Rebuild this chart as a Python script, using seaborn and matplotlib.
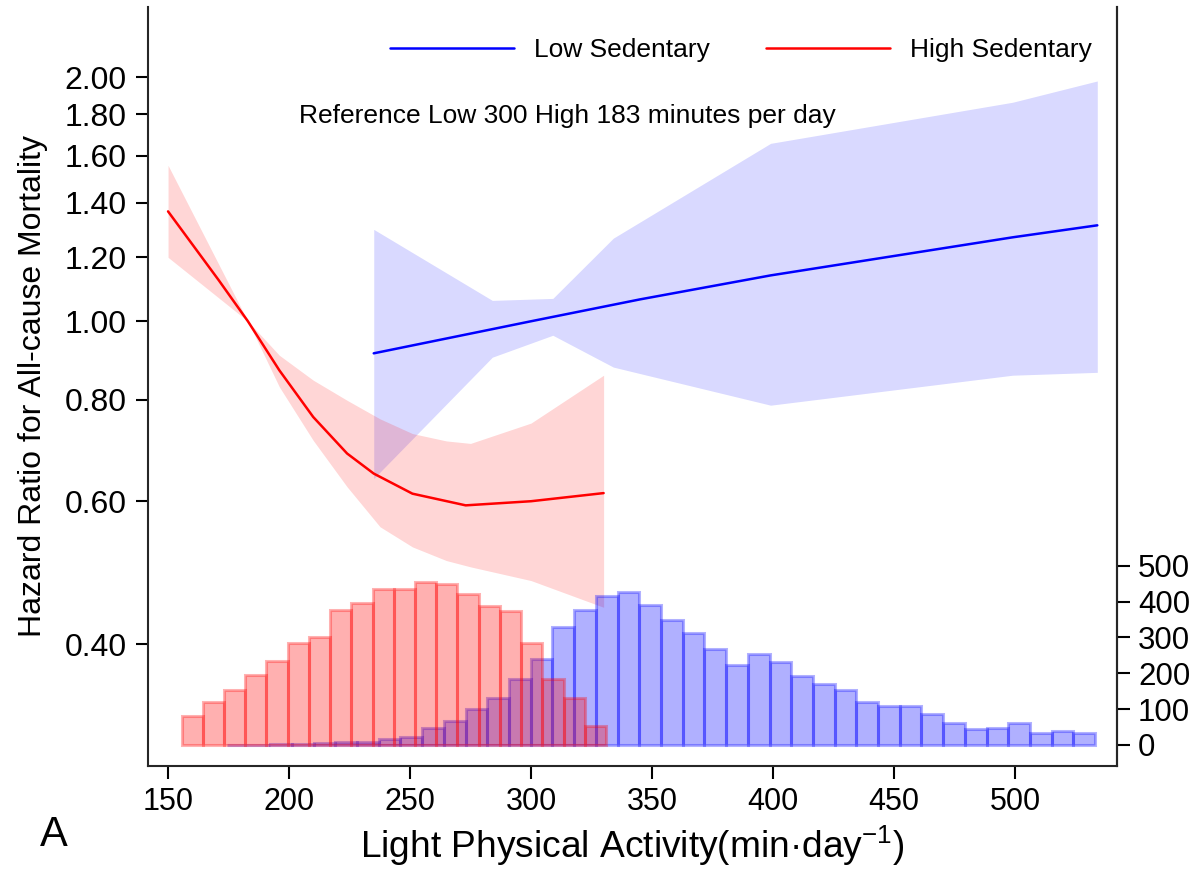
import numpy as np
import pandas as pd
import matplotlib
matplotlib.use("Agg")
import matplotlib.pyplot as plt
import seaborn as sns
from matplotlib.ticker import FixedLocator, FixedFormatter, NullLocator

# hazard ratio curves
low_x = [235, 300, 345, 399, 499, 534]
low_hr = [0.913, 1.0, 1.064, 1.139, 1.269, 1.313]
low_ci_x = [235, 284, 309, 334, 399, 499, 534]
low_lo = [0.640, 0.903, 0.961, 0.878, 0.788, 0.858, 0.865]
low_hi = [1.298, 1.061, 1.067, 1.266, 1.657, 1.862, 1.978]

high_x = [150, 171, 183, 196, 210, 224, 235, 251, 273, 300, 330]
high_hr = [1.366, 1.123, 1.0, 0.870, 0.762, 0.687, 0.649, 0.613, 0.593, 0.600, 0.614]
high_ci_x = [150, 183, 196, 210, 224, 237.6, 251, 265, 275, 300, 330]
high_lo = [1.199, 1.0, 0.830, 0.713, 0.625, 0.558, 0.527, 0.507, 0.498, 0.479, 0.444]
high_hi = [1.557, 1.0, 0.908, 0.846, 0.799, 0.758, 0.727, 0.712, 0.707, 0.749, 0.858]

# histogram counts (number of participants per bin)
low_counts = [1, 1, 2, 3, 5, 8, 8, 16, 21, 46, 67, 100, 131, 184, 240, 328, 377, 416, 427, 391,
              349, 312, 268, 223, 254, 230, 191, 170, 154, 119, 110, 110, 86, 60, 45, 47, 62, 34, 39, 34]
low_range = (174.3, 533.1)
high_counts = [82, 120, 154, 196, 235, 284, 301, 377, 397, 435, 435, 455, 450, 422, 387, 374, 284, 184, 131, 53]
high_range = (155.6, 331.0)

hr_ticks = [0.40, 0.60, 0.80, 1.00, 1.20, 1.40, 1.60, 1.80, 2.00]
count_ticks = [0, 100, 200, 300, 400, 500]
x_ticks = [150, 200, 250, 300, 350, 400, 450, 500]

sns.set_theme(style="ticks")
plt.rcParams['font.family'] = ['Liberation Sans', 'DejaVu Sans']
plt.rcParams['mathtext.fontset'] = 'custom'
plt.rcParams['mathtext.rm'] = 'Liberation Sans'
plt.rcParams['axes.linewidth'] = 1.5
plt.rcParams['text.color'] = 'black'
plt.rcParams['axes.labelcolor'] = 'black'

fig = plt.figure(figsize=(11.98, 8.75), dpi=100)
ax = fig.add_axes([0.1235, 0.1246, 0.8088, 0.8674])
ax2 = ax.twinx()

# confidence bands
ax.fill_between(low_ci_x, low_lo, low_hi, color=(0, 0, 1, 0.15), linewidth=0)
ax.fill_between(high_ci_x, high_lo, high_hi, color=(1, 0, 0, 0.16), linewidth=0)
sns.lineplot(x=low_x, y=low_hr, ax=ax, color='#0000ff', linewidth=1.8, label='Low Sedentary')
sns.lineplot(x=high_x, y=high_hr, ax=ax, color='#ff0000', linewidth=1.8, label='High Sedentary')

# histograms on the secondary axis, one bar per bin centre weighted by its count
def bin_centres(rng, n):
    w = (rng[1] - rng[0]) / n
    return rng[0] + w * (np.arange(n) + 0.5)

low_df = pd.DataFrame({'pa': bin_centres(low_range, len(low_counts)), 'n': low_counts})
high_df = pd.DataFrame({'pa': bin_centres(high_range, len(high_counts)), 'n': high_counts})
sns.histplot(data=low_df, x='pa', weights='n', bins=len(low_counts), binrange=low_range, ax=ax2,
             facecolor=(0, 0, 1, 0.31), edgecolor=(0, 0, 1, 0.3), linewidth=2.2)
sns.histplot(data=high_df, x='pa', weights='n', bins=len(high_counts), binrange=high_range, ax=ax2,
             facecolor=(1, 0, 0, 0.31), edgecolor=(1, 0, 0, 0.3), linewidth=2.2)

ax.set_xlim(141.7, 542.1)
ax.set_yscale('log')
ax.set_ylim(0.283, 2.44)
ax.yaxis.set_major_locator(FixedLocator(hr_ticks))
ax.yaxis.set_major_formatter(FixedFormatter([f"{t:.2f}" for t in hr_ticks]))
ax.yaxis.set_minor_locator(NullLocator())
ax.set_xticks(x_ticks)
ax2.set_ylim(-58.6, 2058)
ax2.set_yticks(count_ticks)
ax2.set_ylabel('')
ax2.set_xlabel('')

for a in (ax, ax2):
    a.spines['top'].set_visible(False)
ax2.spines['left'].set_visible(False)
ax2.spines['bottom'].set_visible(False)

ax.tick_params(axis='y', length=8.6, width=1.5, pad=6.5, labelsize=23, colors='black')
ax.tick_params(axis='x', length=9.4, width=1.5, pad=6, labelsize=22, colors='black')
ax2.tick_params(axis='y', length=9.4, width=1.5, pad=5.8, labelsize=22.5, colors='black')

ax.set_ylabel('Hazard Ratio for All-cause Mortality', fontsize=23)
ax.yaxis.set_label_coords(-0.103, 0.5)
ax.set_xlabel('Light Physical Activity(min·day$^{\\mathregular{-1}}$)', fontsize=26.7)
ax.xaxis.set_label_coords(0.5, -0.075)

handles, labels = ax.get_legend_handles_labels()
ax.legend(handles, labels, loc='center left', bbox_to_anchor=(390 / 1198, 1 - 50 / 875),
          bbox_transform=fig.transFigure, ncol=2, frameon=False, borderpad=0, borderaxespad=0,
          handlelength=4.7, handletextpad=0.77, columnspacing=2.1, fontsize=19)

fig.text(299 / 1198, 1 - 116 / 875, 'Reference Low 300 High 183 minutes per day',
         ha='left', va='center', fontsize=19)
fig.text(54 / 1198, 1 - 835 / 875, 'A', ha='center', va='center', fontsize=30)

fig.savefig('out.png', dpi=100)
